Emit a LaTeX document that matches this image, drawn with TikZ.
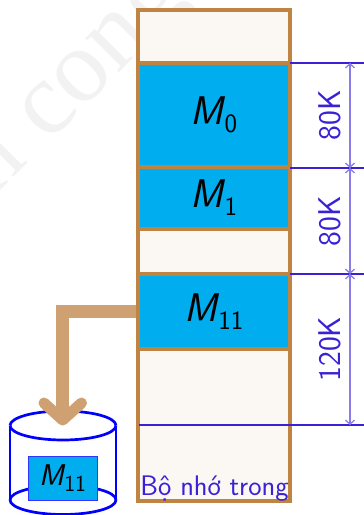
\documentclass[tikz,border=0pt]{standalone}
\usepackage{fontspec}
\usetikzlibrary{arrows.meta}
\newfontfamily\refsans{Latin Modern Sans}
\newfontfamily\wmfont{Liberation Serif}
\definecolor{memfill}{HTML}{FBF8F3}
\definecolor{memline}{HTML}{C08442}
\definecolor{blockblue}{HTML}{00ADEF}
\definecolor{dimblue}{HTML}{3A22D4}
\definecolor{dimthin}{HTML}{8A7DEB}
\definecolor{tanarrow}{HTML}{CFA172}
\definecolor{wmark}{HTML}{F2F2F2}
\newcommand{\memlabel}[3]{{\refsans\fontsize{#1}{#1}\selectfont\itshape M\kern0.02em\raisebox{-0.2em}{\fontsize{#2}{#2}\selectfont\upshape #3}}}
\tikzset{
  x=1pt,y=-1pt,
  memblock/.style={draw=memline,fill=blockblue,line width=3.2pt,inner sep=0pt},
  dimline/.style={draw=dimblue,line width=2.8pt},
  dimtext/.style={text=dimblue,font=\refsans\fontsize{31.5}{31.5}\selectfont,rotate=90,inner sep=0pt},
  dimarrow/.style={draw=dimthin,line width=1.3pt,{Straight Barb[length=4pt,width=9pt]}-{Straight Barb[length=4pt,width=9pt]}},
  cyl/.style={draw=blue,line width=2.7pt},
}
\begin{document}
\begin{tikzpicture}
\useasboundingbox (0,0) rectangle (364,515);
\begin{scope}
\clip (0,0) rectangle (364,515);
\node[text=wmark,font=\wmfont\fontsize{104}{104}\selectfont,rotate=45,anchor=center] (wm) at (81,89) {n cong};
\end{scope}
% memory column
\node[draw=memline,fill=memfill,line width=3.4pt,minimum width=152pt,minimum height=491pt,inner sep=0pt] (mem) at (214,255.5) {};
\node[memblock,minimum width=152pt,minimum height=104pt] (m0) at (214,115) {\memlabel{40}{26.5}{0}};
\node[memblock,minimum width=152pt,minimum height=62pt] (m1) at (214,198) {\memlabel{40}{26.5}{1}};
\node[memblock,minimum width=152pt,minimum height=75pt] (m11) at (214,311.5) {\memlabel{40}{26.5}{11}};
\node[text=dimblue,font=\refsans\fontsize{28.3}{28.3}\selectfont,anchor=base,inner sep=0pt] (memname) at (214.5,495) {Bộ nhớ trong};
% dimension lines
\coordinate (r0) at (364,63);
\coordinate (r1) at (364,168);
\coordinate (r2) at (364,274);
\coordinate (r3) at (364,425);
\coordinate (l0) at (290,63);
\coordinate (l1) at (290,168);
\coordinate (l2) at (290,274);
\coordinate (l3) at (139,425);
\draw[dimline] (l0) -- (r0);
\draw[dimline] (l1) -- (r1);
\draw[dimline] (l2) -- (r2);
\draw[dimline] (l3) -- (r3);
\coordinate (d0) at (350,63);
\coordinate (d1) at (350,168);
\coordinate (d2) at (350,274);
\coordinate (d3) at (350,425);
\draw[dimarrow] (d0) -- (d1);
\draw[dimarrow] (d1) -- (d2);
\draw[dimarrow] (d2) -- (d3);
\node[dimtext] (k0) at (330,115.5) {80K};
\node[dimtext] (k1) at (330,221) {80K};
\node[dimtext] (k2) at (330,349) {120K};
% cylinder
\draw[cyl] (10,425.5) arc[start angle=180,end angle=360,x radius=53,y radius=14.5];
\draw[cyl] (10,425.5) arc[start angle=180,end angle=0,x radius=53,y radius=14.5];
\draw[cyl] (10,425.5) -- (10,500);
\draw[cyl] (116,425.5) -- (116,500);
\draw[cyl] (10,500) arc[start angle=180,end angle=360,x radius=53,y radius=14.5];
\draw[cyl] (10,500) arc[start angle=180,end angle=0,x radius=53,y radius=14.5];
\node[draw=blue!80!white,fill=blockblue,line width=0.8pt,minimum width=69pt,minimum height=44pt,inner sep=0pt] (disk) at (62.5,478) {\memlabel{30}{23}{11}};
% swap arrow
\coordinate (bend) at (62.7,311.5);
\draw[tanarrow,line width=13pt,line join=miter] (m11.west) -- (bend) -- (62.7,415);
\draw[tanarrow,line width=11pt,line cap=round,line join=round] (44,403) -- (62.7,420) -- (81.5,403);
\end{tikzpicture}
\end{document}
